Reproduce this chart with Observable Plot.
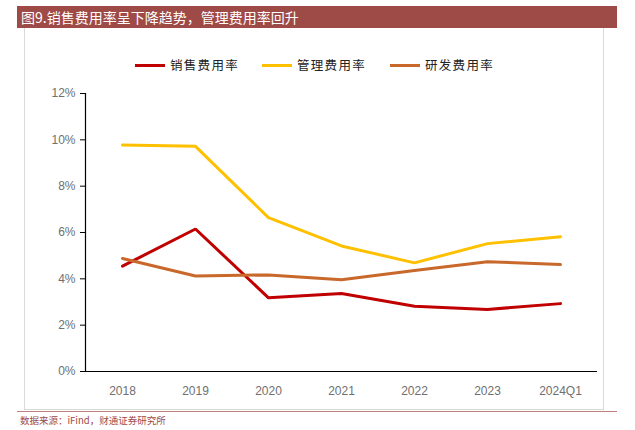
<!DOCTYPE html>
<html><head><meta charset="utf-8">
<script src="https://cdn.jsdelivr.net/npm/d3@7"></script>
<script src="https://cdn.jsdelivr.net/npm/@observablehq/plot@0.6"></script>
<style>
body{margin:0;background:#fff;font-family:"Noto Sans CJK SC","Noto Sans",sans-serif;}
#wrap{position:relative;width:635px;height:430px;overflow:hidden;}
#title{position:absolute;left:17px;top:6px;width:600px;height:22px;background:#9E4A47;color:#fff;font-size:14px;line-height:22px;padding-left:4px;box-sizing:border-box;}
#frame{position:absolute;left:24px;top:28px;width:580px;height:382px;border:1px solid #d9d9d9;box-sizing:border-box;border-top:none;}
#legend{position:absolute;top:56px;left:0;width:635px;height:18px;}
.li{position:absolute;top:0;font-size:12.5px;line-height:18px;color:#222;letter-spacing:1.3px;}
.sw{position:absolute;top:8px;width:30px;height:3px;}
#chart{position:absolute;left:24px;top:80px;}
#srcline{position:absolute;left:17px;top:411px;width:600px;height:1px;background:#C08080;}
#source{position:absolute;left:20px;top:413px;font-size:9.5px;color:#9E4A47;}
</style></head>
<body><div id="wrap">
<div id="title">图9.销售费用率呈下降趋势，管理费用率回升</div>
<div id="frame"></div>
<div id="legend"></div>
<div id="chart"></div>
<div id="srcline"></div>
<div id="source">数据来源：iFind，财通证券研究所</div>
</div>
<script>
const periods = ["2018","2019","2020","2021","2022","2023","2024Q1"];
const seriesNames = ["销售费用率","管理费用率","研发费用率"];
const sales = [4.55, 6.15, 3.18, 3.37, 2.82, 2.68, 2.93];
const admin = [9.78, 9.72, 6.64, 5.42, 4.69, 5.52, 5.82];
const rnd = [4.88, 4.12, 4.17, 3.96, 4.36, 4.74, 4.62];
const colors = ["#C00000","#FFC000","#C8682A"];
const yTicks = [0,2,4,6,8,10,12];

const allSeries = [sales, admin, rnd];
const data = [];
allSeries.forEach((vals, si) => vals.forEach((v, i) => data.push({period: periods[i], value: v, series: seriesNames[si]})));

const plot = Plot.plot({
  width: 580, height: 320,
  marginLeft: 61, marginRight: 7, marginTop: 13, marginBottom: 29,
  style: {fontFamily: "'Liberation Sans', Arial, sans-serif", fontSize: "12px", color: "#6f6f6f", background: "transparent"},
  x: {type: "point", domain: periods, padding: 0.5, label: null},
  y: {domain: [0, 12], label: null},
  color: {domain: seriesNames, range: colors},
  marks: [
    Plot.axisY({ticks: yTicks, tickFormat: d => d + "%", tickSize: 5, tickPadding: 5, stroke: "#000", fill: "#6f6f6f", label: null}),
    Plot.axisX({tickSize: 0, tickPadding: 15, fill: "#6f6f6f", label: null}),
    Plot.frame({anchor: "left", stroke: "#000", strokeWidth: 1.2}),
    Plot.ruleY([0], {stroke: "#000", strokeWidth: 1.2}),
    Plot.line(data, {x: "period", y: "value", z: "series", stroke: "series", strokeWidth: 3, strokeLinejoin: "miter"})
  ]
});
document.getElementById("chart").appendChild(plot);

const legend = document.getElementById("legend");
const pos = [135, 262, 390];
seriesNames.forEach((n, i) => {
  const sw = document.createElement("div"); sw.className = "sw"; sw.style.left = pos[i] + "px"; sw.style.background = colors[i]; legend.appendChild(sw);
  const t = document.createElement("div"); t.className = "li"; t.style.left = (pos[i] + 35) + "px"; t.textContent = n; legend.appendChild(t);
});
</script>
</body></html>
